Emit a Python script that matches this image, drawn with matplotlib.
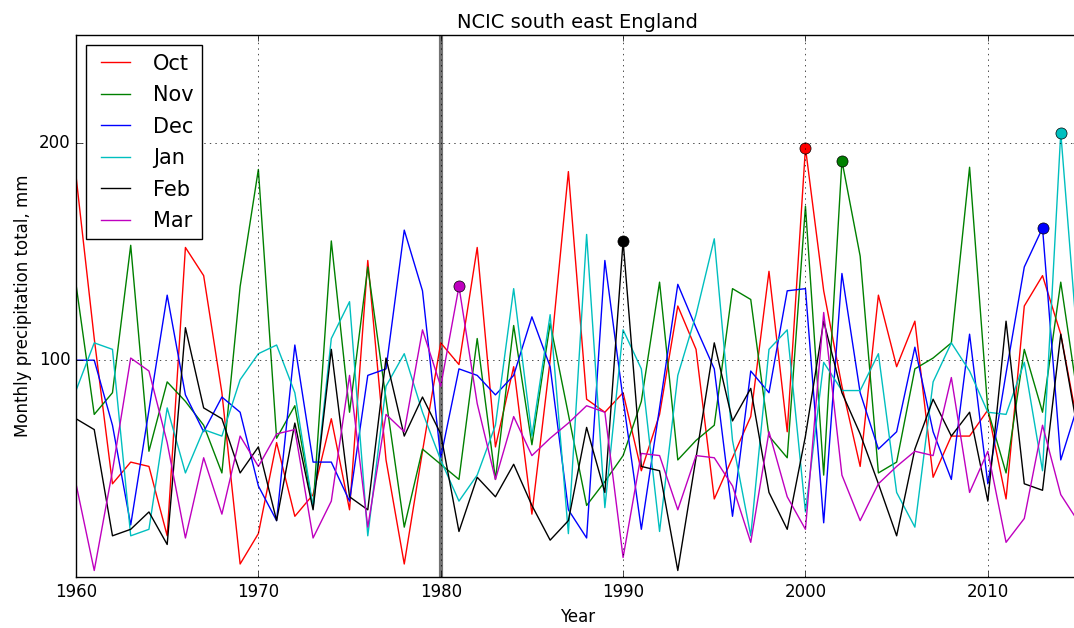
import numpy as np
import matplotlib
matplotlib.use('Agg')
import matplotlib.pyplot as plt

plt.style.use('classic')

years = list(range(1960, 2016))

# monthly totals, mm
oct_ = [185, 110, 43, 53, 51, 19, 152, 139, 85, 6,
        20, 62, 28, 38, 73, 31, 146, 54, 6, 58,
        108, 98, 152, 60, 97, 29, 100, 187, 82, 76,
        85, 49, 75, 125, 105, 36, 55, 74, 141, 67,
        198, 132, 88, 51, 130, 97, 118, 46, 65, 65,
        77, 36, 125, 139, 112, 67]
nov = [135, 75, 85, 153, 58, 90, 81, 70, 48, 134,
       188, 64, 79, 32, 155, 76, 143, 82, 23, 59,
       52, 45, 110, 45, 116, 61, 117, 75, 33, 44,
       56, 81, 136, 54, 63, 70, 133, 128, 65, 55,
       171, 47, 192, 148, 48, 53, 96, 101, 108, 189,
       77, 48, 105, 76, 136, 79]
dec = [100, 100, 70, 24, 77, 130, 84, 67, 83, 76,
       42, 26, 107, 53, 53, 35, 93, 96, 160, 132,
       55, 96, 93, 84, 93, 120, 97, 31, 18, 146,
       82, 22, 78, 135, 115, 96, 28, 95, 85, 132,
       133, 25, 140, 85, 59, 67, 106, 67, 45, 112,
       43, 94, 143, 161, 54, 81]
jan = [86, 108, 105, 19, 22, 78, 48, 68, 65, 91,
       103, 107, 85, 32, 110, 127, 19, 88, 103, 76,
       54, 35, 47, 70, 133, 65, 121, 20, 158, 32,
       114, 96, 21, 93, 121, 156, 63, 19, 105, 114,
       30, 99, 86, 86, 103, 39, 23, 90, 108, 95,
       76, 75, 99, 49, 205, 99]
feb = [73, 68, 19, 22, 30, 15, 115, 78, 73, 48,
       60, 26, 71, 31, 105, 37, 31, 101, 65, 83,
       66, 21, 46, 37, 52, 33, 17, 26, 69, 39,
       155, 51, 49, 3, 55, 108, 72, 87, 39, 22,
       65, 118, 85, 66, 43, 19, 59, 82, 65, 76,
       35, 118, 43, 40, 112, 64]
mar = [43, 3, 49, 101, 95, 62, 18, 55, 29, 65,
       51, 66, 68, 18, 35, 93, 23, 75, 67, 114,
       88, 134, 80, 45, 74, 56, 64, 71, 79, 76,
       9, 57, 56, 31, 56, 55, 42, 16, 67, 37,
       22, 122, 47, 26, 43, 51, 58, 56, 92, 39,
       58, 16, 27, 70, 38, 25]

months = ['Oct', 'Nov', 'Dec', 'Jan', 'Feb', 'Mar']
series = [oct_, nov, dec, jan, feb, mar]
colors = ['r', 'g', 'b', 'c', 'k', 'm']

fig = plt.figure(figsize=(10.74, 6.28), dpi=100)
fig.patch.set_facecolor('white')
ax = fig.add_axes([76 / 1074, 51 / 628, 1003 / 1074, 542 / 628])

ax.axvline(1980, color='0.45', lw=3)

for name, vals, c in zip(months, series, colors):
    ax.plot(years, vals, color=c, lw=1.0, label=name)

# mark the wettest year of each month
for vals, c in zip(series, colors):
    i = int(np.argmax(vals))
    ax.plot(years[i], vals[i], 'o', color=c, markersize=8, markeredgecolor='k', markeredgewidth=0.5)

ax.set_xlim(1960, 2015)
ax.set_ylim(0, 250)
ax.set_xticks([1960, 1970, 1980, 1990, 2000, 2010])
ax.set_yticks([100, 200])
ax.ticklabel_format(useOffset=False)
ax.grid(True)
ax.set_title('NCIC south east England', fontsize=14)
ax.set_xlabel('Year')
ax.set_ylabel('Monthly precipitation total, mm')
ax.legend(loc='upper left', fontsize=15, labelspacing=0.55)

fig.savefig('out.png', dpi=100, facecolor='white')
